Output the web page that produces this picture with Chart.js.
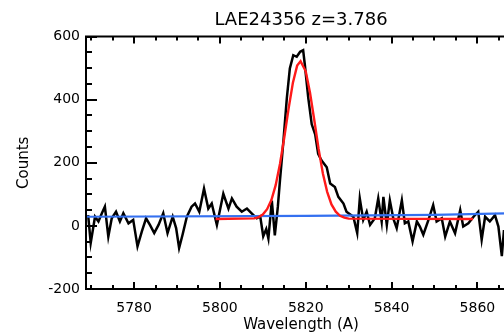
<!DOCTYPE html>
<html>
<head>
<meta charset="utf-8">
<script src="https://cdn.jsdelivr.net/npm/chart.js@4/dist/chart.umd.min.js"></script>
<style>
  html, body { margin: 0; padding: 0; background: #fff; }
  #wrap { width: 504px; height: 334px; overflow: hidden; }
</style>
</head>
<body>
<div id="wrap"><canvas id="myChart" width="516" height="334"></canvas></div>
<script>
'use strict';

// Espectro observado (comprimento de onda / contagens)
var specWave = [5769.3, 5769.9, 5770.9, 5771.7, 5772.5, 5773.2, 5774.0, 5774.8, 5775.8, 5776.7,
  5777.5, 5778.7, 5779.8, 5780.8, 5781.8, 5782.8, 5783.7, 5784.7, 5785.7, 5786.8,
  5787.8, 5789.0, 5789.8, 5790.5, 5791.3, 5792.3, 5793.4, 5794.2, 5795.2, 5796.3,
  5797.3, 5798.1, 5799.3, 5800.8, 5802.0, 5802.8, 5803.9, 5805.1, 5806.3, 5807.4,
  5808.6, 5809.4, 5810.1, 5810.8, 5811.3, 5812.1, 5812.8, 5813.5, 5814.0, 5814.8,
  5815.6, 5816.3, 5817.1, 5817.9, 5818.7, 5819.4, 5819.8, 5820.6, 5821.4, 5822.2,
  5822.9, 5823.7, 5824.9, 5825.7, 5826.8, 5827.6, 5828.8, 5829.5, 5831.1, 5832.0,
  5832.6, 5833.4, 5834.2, 5835.0, 5836.1, 5836.9, 5837.7, 5838.1, 5838.9, 5839.6,
  5840.4, 5841.2, 5842.4, 5843.1, 5843.9, 5844.9, 5845.9, 5846.6, 5847.4, 5848.6,
  5849.7, 5850.5, 5851.7, 5852.5, 5853.6, 5854.8, 5856.0, 5856.7, 5857.9, 5859.1,
  5860.2, 5861.0, 5861.8, 5862.9, 5864.1, 5864.9, 5865.7, 5866.2];
var specCounts = [34, -54, 29, 14, 40, 61, -34, 24, 45, 14,
  40, 8, 19, -65, -18, 24, 3, -23, 3, 40,
  -23, 29, -7, -70, -28, 29, 61, 71, 45, 118,
  55, 71, 3, 102, 55, 87, 61, 45, 55, 40,
  24, 30, -33, -10, -40, 80, -30, 60, 144, 269,
  405, 499, 541, 536, 552, 557, 510, 405, 322, 290,
  228, 207, 186, 134, 123, 92, 71, 45, 29, -23,
  87, 19, 45, 3, 24, 87, 14, 92, 3, 81,
  24, -7, 81, 8, 14, -49, 14, -2, -28, 19,
  66, 14, 24, -34, 14, -23, 50, -2, 8, 29,
  45, -44, 29, 14, 34, -2, -96, -13];

// Ajuste gaussiano (vermelho)
var fitWave = [5799, 5808, 5809, 5810, 5811, 5812, 5813, 5814, 5815, 5816,
  5817, 5818, 5818.8, 5820, 5821, 5822, 5823, 5824, 5825, 5826,
  5827, 5828, 5829, 5830, 5859];
var fitCounts = [22, 24, 28, 36, 53, 82, 129, 196, 280, 371,
  453, 508, 522, 490, 422, 335, 244, 166, 108, 68,
  45, 32, 26, 23, 22];

// Contínuo (azul)
var contWave = [5768.8, 5820, 5850, 5866.5];
var contCounts = [29, 32, 35, 40];

var xTicks = [5780, 5800, 5820, 5840, 5860];
var yTicks = [-200, 0, 200, 400, 600];

function pares(xs, ys) {
  return xs.map(function (x, i) { return { x: x, y: ys[i] }; });
}

var fonte = 'DejaVu Sans';

// Moldura e marcas de escala para dentro (estilo IDL)
var moldura = {
  id: 'moldura',
  afterDraw: function (chart) {
    var ctx = chart.ctx, a = chart.chartArea;
    var sx = chart.scales.x, sy = chart.scales.y;
    ctx.save();
    ctx.strokeStyle = '#000';
    ctx.lineWidth = 2;
    ctx.beginPath();
    ctx.moveTo(a.right, a.top); ctx.lineTo(a.left, a.top);
    ctx.lineTo(a.left, a.bottom); ctx.lineTo(a.right, a.bottom);
    ctx.stroke();
    ctx.beginPath();
    for (var v = 5770; v <= 5865; v += 5) {
      var px = Math.round(sx.getPixelForValue(v));
      var len = (xTicks.indexOf(v) >= 0) ? 7 : 4;
      ctx.moveTo(px, a.bottom); ctx.lineTo(px, a.bottom - len);
      ctx.moveTo(px, a.top); ctx.lineTo(px, a.top + len);
    }
    for (var w = -200; w <= 600; w += 50) {
      var py = Math.round(sy.getPixelForValue(w));
      var l2 = (yTicks.indexOf(w) >= 0) ? 11 : 6;
      ctx.moveTo(a.left, py); ctx.lineTo(a.left + l2, py);
    }
    ctx.stroke();
    ctx.restore();
  }
};

var ctx = document.getElementById('myChart');
var grafico = new Chart(ctx, {
  type: 'scatter',
  data: {
    datasets: [
      {
        label: 'Ajuste',
        data: pares(fitWave, fitCounts),
        showLine: true,
        borderColor: '#ff1a1a',
        borderWidth: 2.4,
        pointRadius: 0,
        order: 0
      },
      {
        label: 'Continuo',
        data: pares(contWave, contCounts),
        showLine: true,
        borderColor: '#3470f0',
        borderWidth: 2.2,
        pointRadius: 0,
        order: 1
      },
      {
        label: 'Espectro',
        data: pares(specWave, specCounts),
        showLine: true,
        borderColor: '#000',
        borderWidth: 2.5,
        pointRadius: 0,
        order: 2
      }
    ]
  },
  options: {
    responsive: false,
    animation: false,
    layout: { padding: 0 },
    plugins: {
      legend: { display: false },
      tooltip: { enabled: false },
      title: {
        display: true,
        text: 'LAE24356 z=3.786',
        fullSize: false,
        color: '#000',
        font: { family: fonte, size: 18, weight: 'normal' },
        padding: { top: 10, bottom: 5 }
      }
    },
    scales: {
      x: {
        type: 'linear',
        min: 5768.8,
        max: 5869,
        afterFit: function (s) { s.height = 45; },
        afterBuildTicks: function (s) { s.ticks = xTicks.map(function (v) { return { value: v }; }); },
        grid: { display: false, drawTicks: false },
        border: { display: false },
        ticks: {
          color: '#000',
          padding: 11,
          maxRotation: 0,
          font: { family: fonte, size: 14 },
          callback: function (v) { return String(v); }
        },
        title: {
          display: true,
          text: 'Wavelength (A)',
          color: '#000',
          font: { family: fonte, size: 15 },
          padding: { top: 0, bottom: 0 }
        }
      },
      y: {
        min: -200,
        max: 600,
        afterFit: function (s) { s.width = 86; },
        afterBuildTicks: function (s) { s.ticks = yTicks.map(function (v) { return { value: v }; }); },
        grid: { display: false, drawTicks: false },
        border: { display: false },
        ticks: {
          color: '#000',
          padding: 6,
          font: { family: fonte, size: 14 },
          callback: function (v) { return String(v); }
        },
        title: {
          display: true,
          text: 'Counts',
          color: '#000',
          font: { family: fonte, size: 15 },
          padding: { top: 15, bottom: 0 }
        }
      }
    }
  },
  plugins: [moldura]
});
</script>
</body>
</html>
